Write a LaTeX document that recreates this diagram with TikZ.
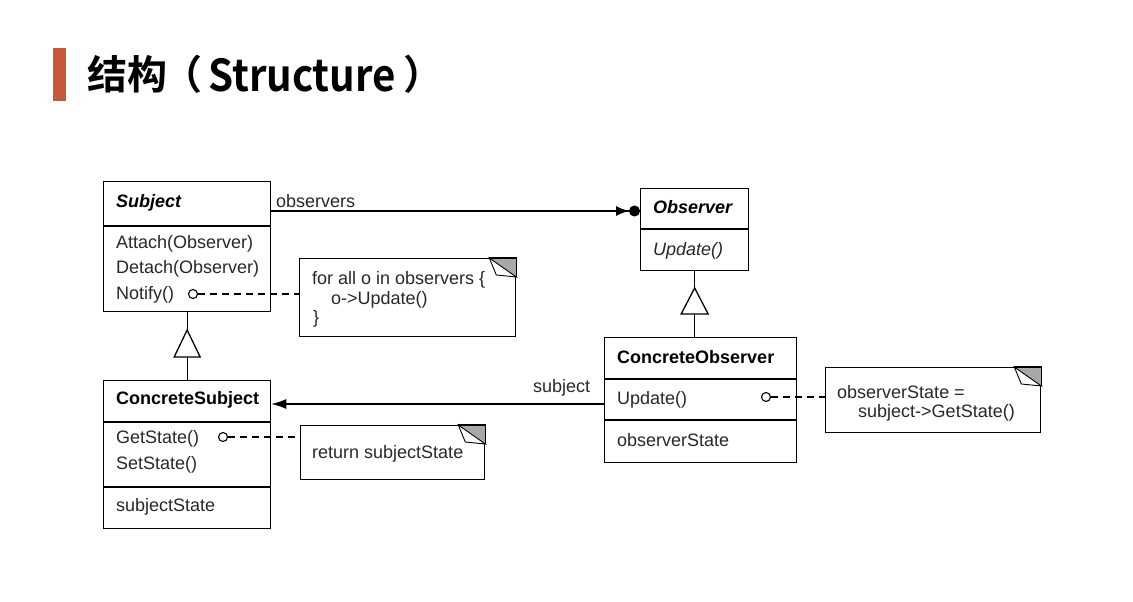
\documentclass[tikz,border=0pt]{standalone}
\usepackage{fontspec}
\usepackage{graphicx}
\setmainfont{Liberation Sans}
\newfontfamily\titlefont{Noto Sans CJK SC Bold}
\usetikzlibrary{arrows.meta}

\definecolor{barred}{RGB}{200,88,60}
\definecolor{foldgray}{RGB}{168,168,168}
\definecolor{inkgray}{RGB}{40,40,40}

\begin{document}
\begin{tikzpicture}[x=1pt,y=-1pt,
    classbox/.style={draw, line width=1.3pt, anchor=north west, inner sep=0pt},
    notebox/.style={draw, line width=1.3pt, anchor=north west, inner sep=0pt},
    txt/.style={anchor=base west, inner sep=0pt, text=inkgray, font=\fontsize{18}{22}\selectfont},
    dot/.style={draw, circle, line width=1.1pt, inner sep=0pt, minimum size=9pt, fill=white},
    link/.style={line width=1.3pt},
    notelink/.style={line width=1.2pt, dash pattern=on 7pt off 5pt}]

    \useasboundingbox[fill=white] (0,0) rectangle (1133,602);

    % title
    \fill[barred] (53,48) rectangle (66,101);
    \node[anchor=base west, inner sep=0pt, font=\titlefont\fontsize{40}{44}\selectfont] (title) at (87,89)
        {结构\hspace{-5pt}（\hspace{6pt}\raisebox{-2pt}{\scalebox{0.915}[1]{\fontsize{44}{48}\selectfont Structure}}\hspace{7pt}）};

    % class boxes
    \node[classbox, minimum width=167pt, minimum height=130pt] (subj) at (103,181) {};
    \node[classbox, minimum width=108pt, minimum height=82pt] (obs) at (640,188) {};
    \node[classbox, minimum width=192pt, minimum height=125pt] (cobs) at (604,337) {};
    \node[classbox, minimum width=167pt, minimum height=148pt] (csubj) at (103,380) {};

    \draw[link] (subj.west |- 0,226) -- (subj.east |- 0,226);
    \draw[link] (obs.west |- 0,229) -- (obs.east |- 0,229);
    \draw[link] (cobs.west |- 0,379) -- (cobs.east |- 0,379);
    \draw[link] (cobs.west |- 0,420) -- (cobs.east |- 0,420);
    \draw[link] (csubj.west |- 0,422) -- (csubj.east |- 0,422);
    \draw[link] (csubj.west |- 0,487) -- (csubj.east |- 0,487);

    % class texts
    \node[txt, text=black] (subjname) at (116,207) {\bfseries\itshape Subject};
    \node[txt] (subjattach) at (116,248) {Attach(Observer)};
    \node[txt] (subjdetach) at (116,273) {Detach(Observer)};
    \node[txt] (subjnotify) at (116,299) {Notify()};

    \node[txt, text=black] (obsname) at (653,213) {\bfseries\itshape Observer};
    \node[txt] (obsupdate) at (653,255) {\itshape Update()};

    \node[txt, text=black] (cobsname) at (617,363) {\bfseries ConcreteObserver};
    \node[txt] (cobsupdate) at (617,404) {Update()};
    \node[txt] (cobsstate) at (617,446) {observerState};

    \node[txt, text=black] (csubjname) at (116,404) {\bfseries ConcreteSubject};
    \node[txt] (csubjget) at (116,443) {GetState()};
    \node[txt] (csubjset) at (116,469) {SetState()};
    \node[txt] (csubjstate) at (116,511) {subjectState};

    % notes
    \node[notebox, minimum width=216pt, minimum height=78pt] (notifynote) at (299,258) {};
    \node[notebox, minimum width=184pt, minimum height=54pt] (getnote) at (300,425) {};
    \node[notebox, minimum width=215pt, minimum height=65pt] (updnote) at (825,367) {};

    \foreach \n in {notifynote,getnote,updnote} {
        \fill[foldgray] ([xshift=-27pt]\n.north east) -- (\n.north east) -- ([yshift=-19pt]\n.north east) -- cycle;
        \draw[line width=0.9pt, fill=white] ([xshift=-27pt]\n.north east) -- ([xshift=-20pt,yshift=-17pt]\n.north east)
            -- ([yshift=-19pt]\n.north east) -- cycle;
        \draw[link] ([xshift=-27pt]\n.north east) -- (\n.north east) -- ([yshift=-19pt]\n.north east);
    }

    \node[txt] (notifyl1) at (312,284) {for all o in observers \{};
    \node[txt] (notifyl2) at (331,304) {o->Update()};
    \node[txt] (notifyl3) at (313,323) {\}};
    \node[txt] (getl1) at (312,458) {return subjectState};
    \node[txt] (updl1) at (837,398) {observerState =};
    \node[txt] (updl2) at (858,417) {subject->GetState()};

    % note links
    \node[dot] (notifydot) at (193,294) {};
    \node[dot] (getdot) at (223,437) {};
    \node[dot] (upddot) at (766,397) {};
    \draw[notelink] (notifydot) -- (notifynote.west |- notifydot);
    \draw[notelink] (getdot) -- (getnote.west |- getdot);
    \draw[notelink] (upddot) -- (updnote.west |- upddot);

    % associations
    \draw[link, -{Latex[length=13pt,width=10pt] Circle[length=11pt]}] (subj.east |- 0,211) -- (obs.west |- 0,211);
    \node[txt] (obslabel) at (276,207) {observers};
    \draw[link, -{Latex[length=15pt,width=10pt]}] (cobs.west |- 0,404) -- (csubj.east |- 0,404);
    \node[txt] (subjlabel) at (533,392) {subject};

    % inheritance
    \coordinate (subjtri) at (subj.south |- 0,357);
    \draw[link] (subj.south) -- ([yshift=27pt]subjtri);
    \draw[link, fill=white] ([xshift=-13pt]subjtri) -- ([xshift=13pt]subjtri) -- ([yshift=27pt]subjtri) -- cycle;
    \draw[link] (subjtri) -- (csubj.north);

    \coordinate (obstri) at (obs.south |- 0,314);
    \draw[link] (obs.south) -- ([yshift=26pt]obstri);
    \draw[link, fill=white] ([xshift=-13.5pt]obstri) -- ([xshift=13.5pt]obstri) -- ([yshift=26pt]obstri) -- cycle;
    \draw[link] (obstri) -- (cobs.north -| obstri);
\end{tikzpicture}
\end{document}
